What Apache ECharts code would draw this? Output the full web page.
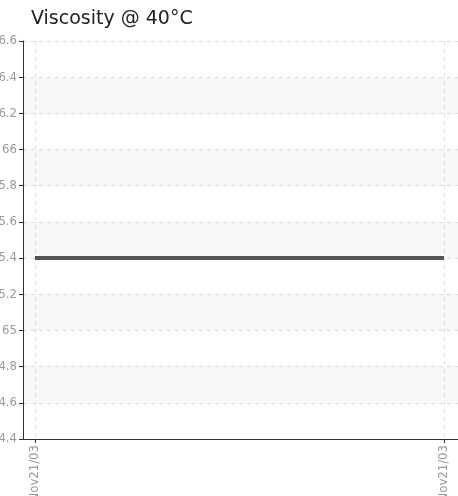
<!DOCTYPE html>
<html><head><meta charset="utf-8">
<script src="https://cdn.jsdelivr.net/npm/echarts@6/dist/echarts.min.js"></script>
<style>html,body{margin:0;padding:0;background:#fff}#c{width:458px;height:496px}</style>
</head><body><div id="c"></div>
<script>
var title = 'Viscosity @ 40°C';
var dates = ['Nov21/03', 'Nov21/03'];
var viscosity = [65.4, 65.4];
var yMin = 64.4, yMax = 66.6, yStep = 0.2;

var narrow = '"DejaVu Sans Condensed", "Liberation Sans Narrow", "Roboto Condensed", sans-serif';
var chart = echarts.init(document.getElementById('c'));
var idx = dates.map(function (d, i) { return i; });
chart.setOption({
  animation: false,
  title: {text: title, left: 26, top: 5,
    textStyle: {fontFamily: 'DejaVu Sans', fontSize: 19, fontWeight: 'normal', color: '#222'}},
  grid: {left: 23, right: 0, top: 41, bottom: 57, containLabel: false, outerBoundsMode: 'none'},
  xAxis: {
    type: 'value', min: -0.0293, max: 1.0342,
    axisLine: {show: true, onZero: false, lineStyle: {color: '#333', width: 1}},
    axisTick: {show: true, customValues: idx, length: 4, lineStyle: {color: '#333'}},
    axisLabel: {customValues: idx, rotate: 90, color: '#999', fontSize: 13,
      fontFamily: narrow, margin: 6,
      formatter: function (v) { return dates[Math.round(v)]; }},
    splitLine: {show: true, customValues: idx, lineStyle: {color: '#ddd', type: [4, 4]}}
  },
  yAxis: {
    type: 'value', min: yMin, max: yMax, interval: yStep,
    axisLine: {show: true, onZero: false, lineStyle: {color: '#333'}},
    axisTick: {show: true, length: 4, lineStyle: {color: '#333'}},
    axisLabel: {color: '#999', fontSize: 13, fontFamily: narrow, margin: 6,
      formatter: function (v) { return String(Math.round(v * 10) / 10); }},
    splitLine: {show: true, lineStyle: {color: '#ddd', type: [4, 4]}},
    splitArea: {show: true, areaStyle: {color: ['#ffffff', '#f7f7f7']}}
  },
  series: [{
    type: 'line', data: viscosity.map(function (v, i) { return [i, v]; }),
    showSymbol: false, symbol: 'none',
    lineStyle: {color: '#555', width: 4}
  }]
});
</script></body></html>
